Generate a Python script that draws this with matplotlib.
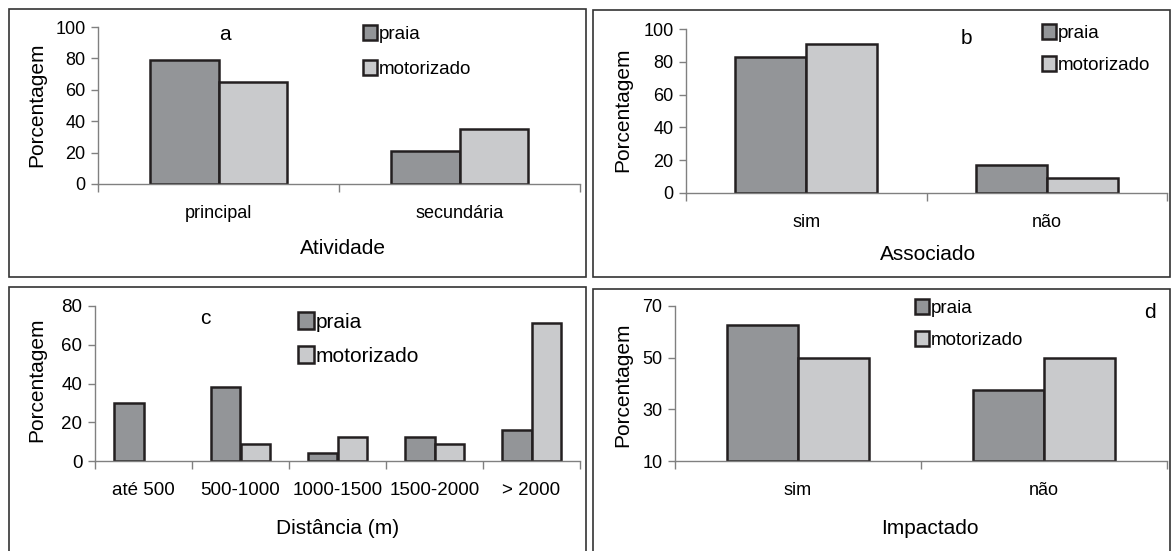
import matplotlib
matplotlib.use("Agg")
import matplotlib.pyplot as plt
from matplotlib.patches import Patch, Rectangle
import numpy as np

plt.rcParams['font.family'] = ['Liberation Sans', 'DejaVu Sans']

W, H = 1174, 551
series = ["praia", "motorizado"]

# panel a
cats_a = ["principal", "secundária"]
praia_a = [79, 21]
motor_a = [65, 35]
# panel b
cats_b = ["sim", "não"]
praia_b = [83, 17]
motor_b = [91, 9]
# panel c
cats_c = ["até 500", "500-1000", "1000-1500", "1500-2000", "> 2000"]
praia_c = [30, 38.4, 4, 12.5, 16.2]
motor_c = [0, 8.8, 12.5, 8.8, 71.3]
# panel d
cats_d = ["sim", "não"]
praia_d = [62.5, 37.5]
motor_d = [50, 50]

C_DARK = "#939598"
C_LIGHT = "#c9cacc"
EDGE = "#231f20"
AX = "#808080"

fig = plt.figure(figsize=(W / 100, H / 100), dpi=100)


def fx(x):
    return x / W


def fy(y):
    return 1 - y / H


def make_axes(x0, x1, ytop, ybot):
    return fig.add_axes([fx(x0), fy(ybot), fx(x1 - x0), (ybot - ytop) / H])


def frame(x0, y0, x1, y1):
    fig.patches.append(Rectangle((fx(x0), fy(y1)), fx(x1 - x0), (y1 - y0) / H,
                                 transform=fig.transFigure, fill=False,
                                 ec="#333333", lw=1.2))


def panel(ax, cats, p, m, ylim, yticks, bw, fs_tick, xlabel, xlab_pos, ylab_pos,
          leg_pos, leg_fs, leg_sp, letter, letter_pos, letter_fs):
    n = len(cats)
    x = np.arange(n)
    base = ylim[0]
    for vals, off, col in ((p, -bw / 2, C_DARK), (m, bw / 2, C_LIGHT)):
        bars = ax.bar(x + off, [v - base for v in vals], bw, bottom=base, color=col,
                      edgecolor=EDGE, lw=1.8, zorder=3)
        for b, v in zip(bars, vals):
            if v <= base:
                b.set_visible(False)
    ax.set_xlim(-0.5, n - 0.5)
    ax.set_ylim(*ylim)
    ax.set_yticks(yticks)
    ax.set_xticks(x)
    ax.set_xticklabels(cats, fontsize=fs_tick)
    ax.set_xticks(np.arange(n + 1) - 0.5, minor=True)
    ax.tick_params(axis='x', which='major', length=0, pad=15)
    ax.tick_params(axis='x', which='minor', length=6, color=AX, width=1)
    ax.tick_params(axis='y', length=5, color=AX, width=1, labelsize=fs_tick, pad=4)
    for s in ["top", "right"]:
        ax.spines[s].set_visible(False)
    for s in ["left", "bottom"]:
        ax.spines[s].set_color(AX)
        ax.spines[s].set_linewidth(1)
        ax.spines[s].set_zorder(4)
    ax.set_facecolor("none")
    ax.set_ylabel("Porcentagem", fontsize=15)
    ax.yaxis.set_label_coords(fx(ylab_pos[0]), fy(ylab_pos[1]), transform=fig.transFigure)
    ax.set_xlabel(xlabel, fontsize=15)
    ax.xaxis.set_label_coords(fx(xlab_pos[0]), fy(xlab_pos[1]), transform=fig.transFigure)
    ax.xaxis.label.set_va("center")
    ax.yaxis.label.set_va("center")
    handles = [Patch(fc=C_DARK, ec=EDGE, lw=1.8), Patch(fc=C_LIGHT, ec=EDGE, lw=1.8)]
    ax.legend(handles, series, loc="upper left",
              bbox_to_anchor=(fx(leg_pos[0]), fy(leg_pos[1])),
              bbox_transform=fig.transFigure, frameon=False, fontsize=leg_fs,
              handlelength=0.75, handleheight=0.85, handletextpad=0.1,
              labelspacing=leg_sp, borderpad=0, borderaxespad=0)
    fig.text(fx(letter_pos[0]), fy(letter_pos[1]), letter, ha="center", va="center",
             fontsize=letter_fs)


frame(9, 9, 586, 277)
frame(593, 10, 1170, 277)
frame(9, 287, 586, 562)
frame(593, 289, 1170, 562)

ax_a = make_axes(98, 580, 27, 184)
panel(ax_a, cats_a, praia_a, motor_a, (0, 100), [0, 20, 40, 60, 80, 100], 0.285, 13,
      "Atividade", (343, 249), (37, 105), (363, 25), 13.5, 0.9, "a", (225, 35), 15)

ax_b = make_axes(686, 1167, 29, 193)
panel(ax_b, cats_b, praia_b, motor_b, (0, 100), [0, 20, 40, 60, 80, 100], 0.295, 13,
      "Associado", (928, 255), (623, 110), (1042, 24), 13.5, 0.75, "b", (966, 38), 15)

ax_c = make_axes(95, 580, 306, 461)
panel(ax_c, cats_c, praia_c, motor_c, (0, 80), [0, 20, 40, 60, 80], 0.3, 13.5,
      "Distância (m)", (338, 528), (37, 380), (298, 312), 15, 0.7, "c", (205, 318), 15)

ax_d = make_axes(675, 1167, 306, 461)
panel(ax_d, cats_d, praia_d, motor_d, (10, 70), [10, 30, 50, 70], 0.29, 13,
      "Impactado", (930, 528), (623, 385), (915, 299), 13.5, 0.75, "d", (1150, 313), 15)

fig.savefig("out.png", dpi=100)
